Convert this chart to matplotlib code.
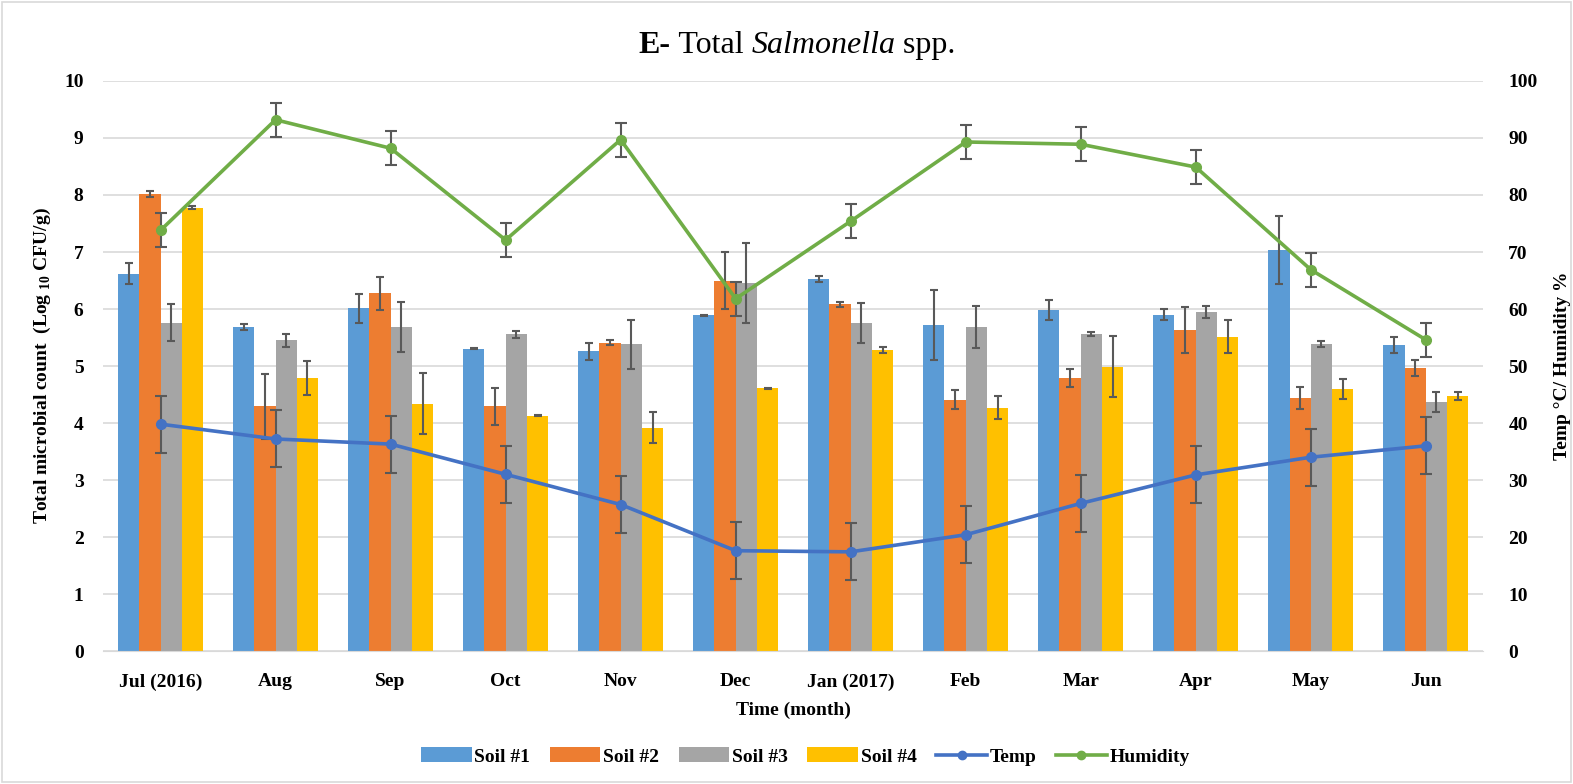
import numpy as np
import matplotlib.pyplot as plt
from matplotlib.patches import Rectangle

plt.rcParams['font.family'] = 'Liberation Serif'
plt.rcParams['mathtext.fontset'] = 'custom'
plt.rcParams['mathtext.bf'] = 'Liberation Serif:bold'

months = ['Jul (2016)', 'Aug', 'Sep', 'Oct', 'Nov', 'Dec', 'Jan (2017)',
          'Feb', 'Mar', 'Apr', 'May', 'Jun']

soil1 = [6.62, 5.68, 6.01, 5.30, 5.26, 5.89, 6.53, 5.72, 5.98, 5.90, 7.04, 5.37]
soil2 = [8.02, 4.29, 6.28, 4.29, 5.41, 6.50, 6.08, 4.41, 4.79, 5.63, 4.44, 4.96]
soil3 = [5.76, 5.45, 5.68, 5.56, 5.38, 6.46, 5.75, 5.69, 5.56, 5.95, 5.38, 4.37]
soil4 = [7.78, 4.79, 4.34, 4.13, 3.92, 4.61, 5.28, 4.27, 4.99, 5.51, 4.60, 4.48]

soil1_err = [0.18, 0.05, 0.26, 0.01, 0.15, 0.01, 0.05, 0.62, 0.18, 0.10, 0.60, 0.14]
soil2_err = [0.05, 0.57, 0.29, 0.33, 0.04, 0.50, 0.05, 0.17, 0.16, 0.40, 0.19, 0.14]
soil3_err = [0.32, 0.12, 0.44, 0.06, 0.43, 0.70, 0.35, 0.37, 0.04, 0.10, 0.05, 0.17]
soil4_err = [0.02, 0.29, 0.53, 0.01, 0.27, 0.01, 0.06, 0.20, 0.53, 0.29, 0.17, 0.07]

temp = [39.8, 37.2, 36.3, 31.0, 25.7, 17.6, 17.4, 20.4, 25.9, 30.9, 34.0, 36.0]
temp_err = [5] * 12
humidity = [73.8, 93.2, 88.2, 72.1, 89.7, 61.8, 75.4, 89.3, 88.9, 84.9, 66.9, 54.6]
humidity_err = [3] * 12

soils = [soil1, soil2, soil3, soil4]
soil_errs = [soil1_err, soil2_err, soil3_err, soil4_err]
soil_names = ['Soil #1', 'Soil #2', 'Soil #3', 'Soil #4']
colors = ['#5B9BD5', '#ED7D31', '#A5A5A5', '#FFC000']

fig = plt.figure(figsize=(15.73, 7.84), dpi=100)
ax = fig.add_axes([0.0655, 0.1696, 0.8775, 0.7271])
ax2 = ax.twinx()

x = np.arange(len(months))
w = 0.185
handles = []
for i in range(4):
    b = ax.bar(x + (i - 1.5) * w, soils[i], w, color=colors[i], label=soil_names[i],
               yerr=soil_errs[i], error_kw=dict(ecolor='#595959', elinewidth=1.5,
                                                capsize=3, capthick=1.5), zorder=2)
    handles.append(b)

ax.set_ylim(0, 10)
ax.set_xlim(-0.5, 11.5)
ax.set_yticks(range(0, 11))
ax.yaxis.grid(True, color='#D9D9D9', linewidth=1.2, zorder=0)
ax.set_axisbelow(True)
for s in ['top', 'left', 'right']:
    ax.spines[s].set_visible(False)
ax.spines['bottom'].set_color('#D9D9D9')
ax.tick_params(length=0, labelsize=14)
ax.tick_params(axis='x', pad=16)
ax.tick_params(axis='y', pad=14)
ax.set_xticks(x)
ax.set_xticklabels(months, fontweight='bold')
for lab in ax.get_yticklabels():
    lab.set_fontweight('bold')
ax.set_xlabel('Time (month)', fontsize=14, fontweight='bold', labelpad=8)
ax.set_ylabel(r'Total microbial count  (Log $_{\mathbf{10}}$ CFU/g)', fontsize=14,
              fontweight='bold', labelpad=8)

ax2.errorbar(x, temp, yerr=temp_err, color='#4472C4', lw=2.6, marker='o', ms=7,
             ecolor='#595959', elinewidth=1.5, capsize=4, capthick=1.5, label='Temp')
ax2.errorbar(x, humidity, yerr=humidity_err, color='#70AD47', lw=2.6, marker='o', ms=7,
             ecolor='#595959', elinewidth=1.5, capsize=4, capthick=1.5, label='Humidity')
ax2.set_ylim(0, 100)
ax2.set_yticks(range(0, 101, 10))
for s in ['top', 'left', 'right', 'bottom']:
    ax2.spines[s].set_visible(False)
ax2.tick_params(length=0, labelsize=14, pad=18)
for lab in ax2.get_yticklabels():
    lab.set_fontweight('bold')
ax2.set_ylabel('Temp \u00b0C/ Humidity %', fontsize=14, fontweight='bold', labelpad=12)

line_handles = [plt.Line2D([], [], color='#4472C4', lw=2.6, marker='o', ms=6),
                plt.Line2D([], [], color='#70AD47', lw=2.6, marker='o', ms=6)]
fig.legend(handles + line_handles, soil_names + ['Temp', 'Humidity'], loc='center',
           bbox_to_anchor=(0.512, 0.035), ncol=6, frameon=False, handlelength=2.6,
           handleheight=0.8, columnspacing=1.0, handletextpad=0.15,
           prop=dict(family='Liberation Serif', weight='bold', size=14))

# title assembled from pieces so each keeps its own style
t1 = fig.text(0.406, 0.933, 'E-', fontsize=23, fontweight='bold')
t2 = ax.annotate(' Total ', xy=(1, 0), xycoords=t1, va='bottom', fontsize=23,
                 annotation_clip=False)
t3 = ax.annotate('Salmonella', xy=(1, 0), xycoords=t2, va='bottom', fontsize=23,
                 style='italic', annotation_clip=False)
ax.annotate(' spp.', xy=(1, 0), xycoords=t3, va='bottom', fontsize=23,
            annotation_clip=False)

fig.patches.append(Rectangle((0.001, 0.002), 0.998, 0.996, transform=fig.transFigure,
                             fill=False, edgecolor='#D9D9D9', linewidth=1.2))

fig.savefig('out.png', dpi=100)
